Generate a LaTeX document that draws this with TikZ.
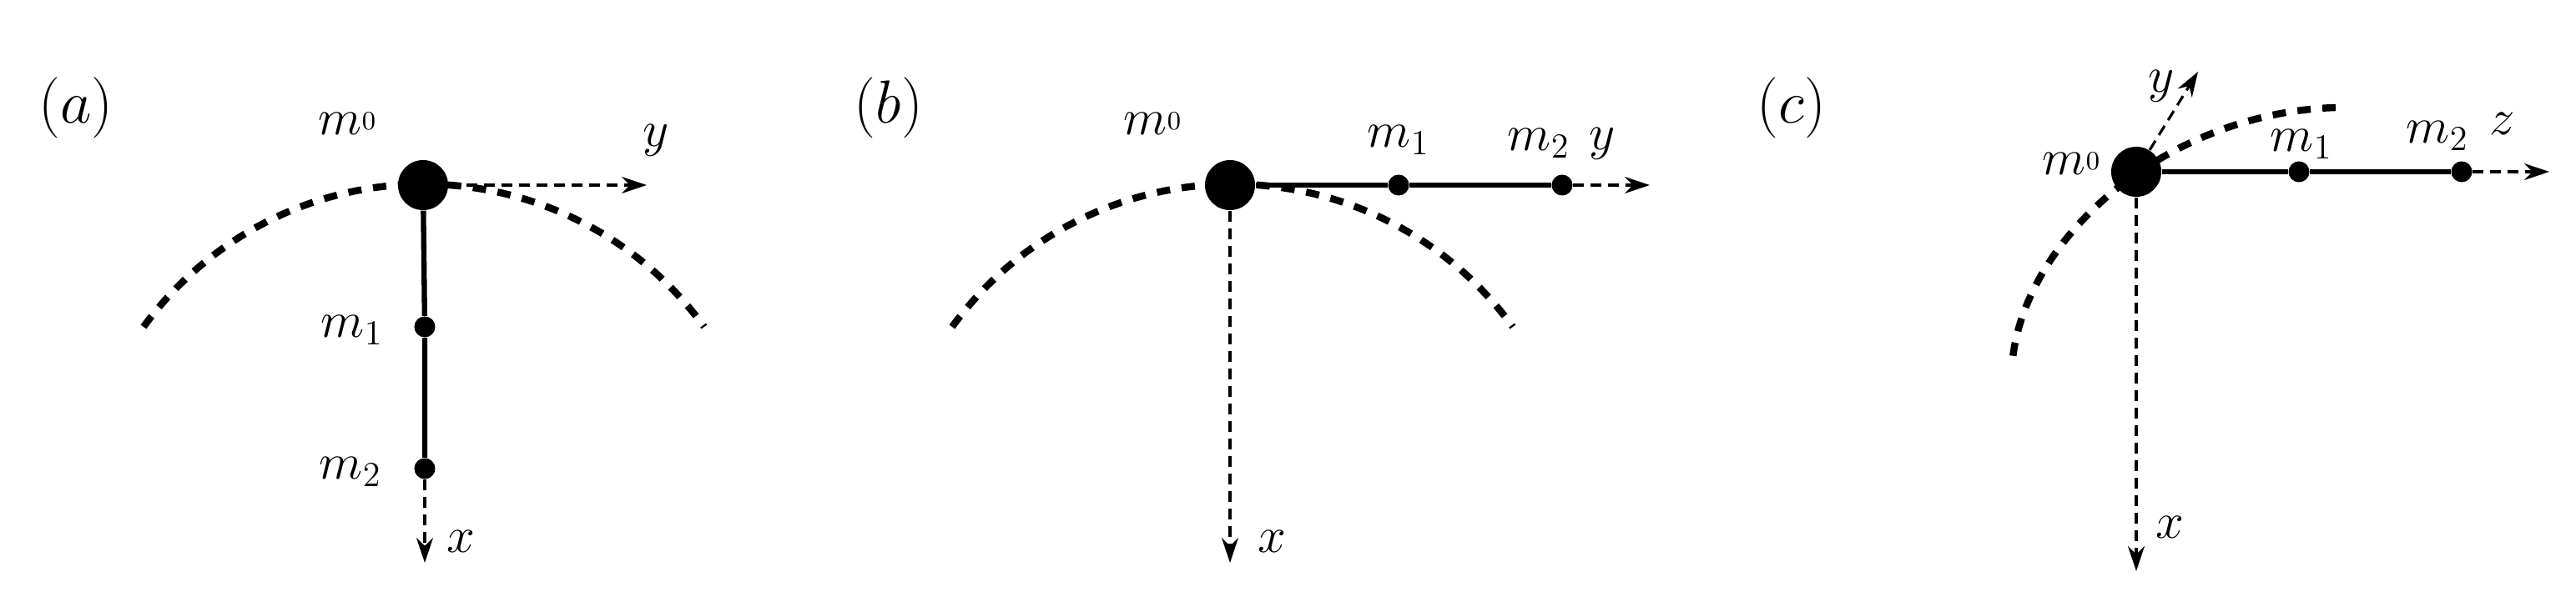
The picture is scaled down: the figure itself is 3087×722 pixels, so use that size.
\documentclass[tikz,border=0pt]{standalone}
\usetikzlibrary{arrows.meta}
\begin{document}
\begin{tikzpicture}[x=0.01cm,y=-0.01cm,
  big/.style={circle,fill=black,inner sep=0pt,minimum size=0.6cm},
  small/.style={circle,fill=black,inner sep=0pt,minimum size=0.25cm},
  rod/.style={line width=1.8pt},
  arc/.style={line width=2.4pt,dash pattern=on 0.16cm off 0.14cm},
  axis/.style={line width=0.9pt,dash pattern=on 0.13cm off 0.08cm,-{Stealth[length=0.3cm,width=0.2cm]}},
  lab/.style={font=\fontsize{18}{20}\selectfont,inner sep=0pt},
  plab/.style={font=\fontsize{22}{26}\selectfont,inner sep=0pt}]
\newcommand{\mzero}{$m$\raisebox{0.2ex}{\fontsize{9}{9}\selectfont 0}}
\useasboundingbox (0,0) rectangle (3087,722);
% (a)
\node[plab] (la) at (91,129) {$(a)$};
\draw[arc] (172,392) arc[start angle=144,end angle=36,radius=4.15cm];
\node[big] (a0) at (507,222) {};
\node[small] (a1) at (509,392) {};
\node[small] (a2) at (509,562) {};
\coordinate (ay) at (775,222);
\coordinate (ax) at (509,675);
\draw[rod] (a0) -- (a1) -- (a2);
\draw[axis] (a0) -- (ay);
\draw[axis] (a2) -- (ax);
\node[lab] (am0) at (416,148) {\mzero};
\node[lab] (am1) at (422,396) {$m_1$};
\node[lab] (am2) at (420,566) {$m_2$};
\node[lab] (ayl) at (786,168) {$y$};
\node[lab] (axl) at (552,649) {$x$};
% (b)
\node[plab] (lb) at (1065,129) {$(b)$};
\draw[arc] (1141,392) arc[start angle=144,end angle=36,radius=4.15cm];
\node[big] (b0) at (1474,222) {};
\node[small] (b1) at (1676,222) {};
\node[small] (b2) at (1872,222) {};
\coordinate (by) at (1977,222);
\coordinate (bx) at (1474,675);
\draw[rod] (b0) -- (b1) -- (b2);
\draw[axis] (b2) -- (by);
\draw[axis] (b0) -- (bx);
\node[lab] (bm0) at (1381,148) {\mzero};
\node[lab] (bm1) at (1676,168) {$m_1$};
\node[lab] (bm2) at (1844,172) {$m_2$};
\node[lab] (byl) at (1920,172) {$y$};
\node[lab] (bxl) at (1524,649) {$x$};
% (c)
\node[plab] (lc) at (2147,129) {$(c)$};
\draw[arc] (2799,129) .. controls (2600,135) and (2430,280) .. (2412,429);
\node[big] (c0) at (2560,206) {};
\node[small] (c1) at (2755,206) {};
\node[small] (c2) at (2950,206) {};
\coordinate (cz) at (3055,206);
\coordinate (cx) at (2560,685);
\coordinate (cy) at (2634,86);
\draw[rod] (c0) -- (c1) -- (c2);
\draw[axis] (c2) -- (cz);
\draw[axis] (c0) -- (cx);
\draw[axis] (c0) -- (cy);
\node[lab] (cm0) at (2482,196) {\mzero};
\node[lab] (cm1) at (2758,173) {$m_1$};
\node[lab] (cm2) at (2921,163) {$m_2$};
\node[lab] (czl) at (2999,148) {$z$};
\node[lab] (cyl) at (2590,103) {$y$};
\node[lab] (cxl) at (2600,632) {$x$};
\end{tikzpicture}
\end{document}
